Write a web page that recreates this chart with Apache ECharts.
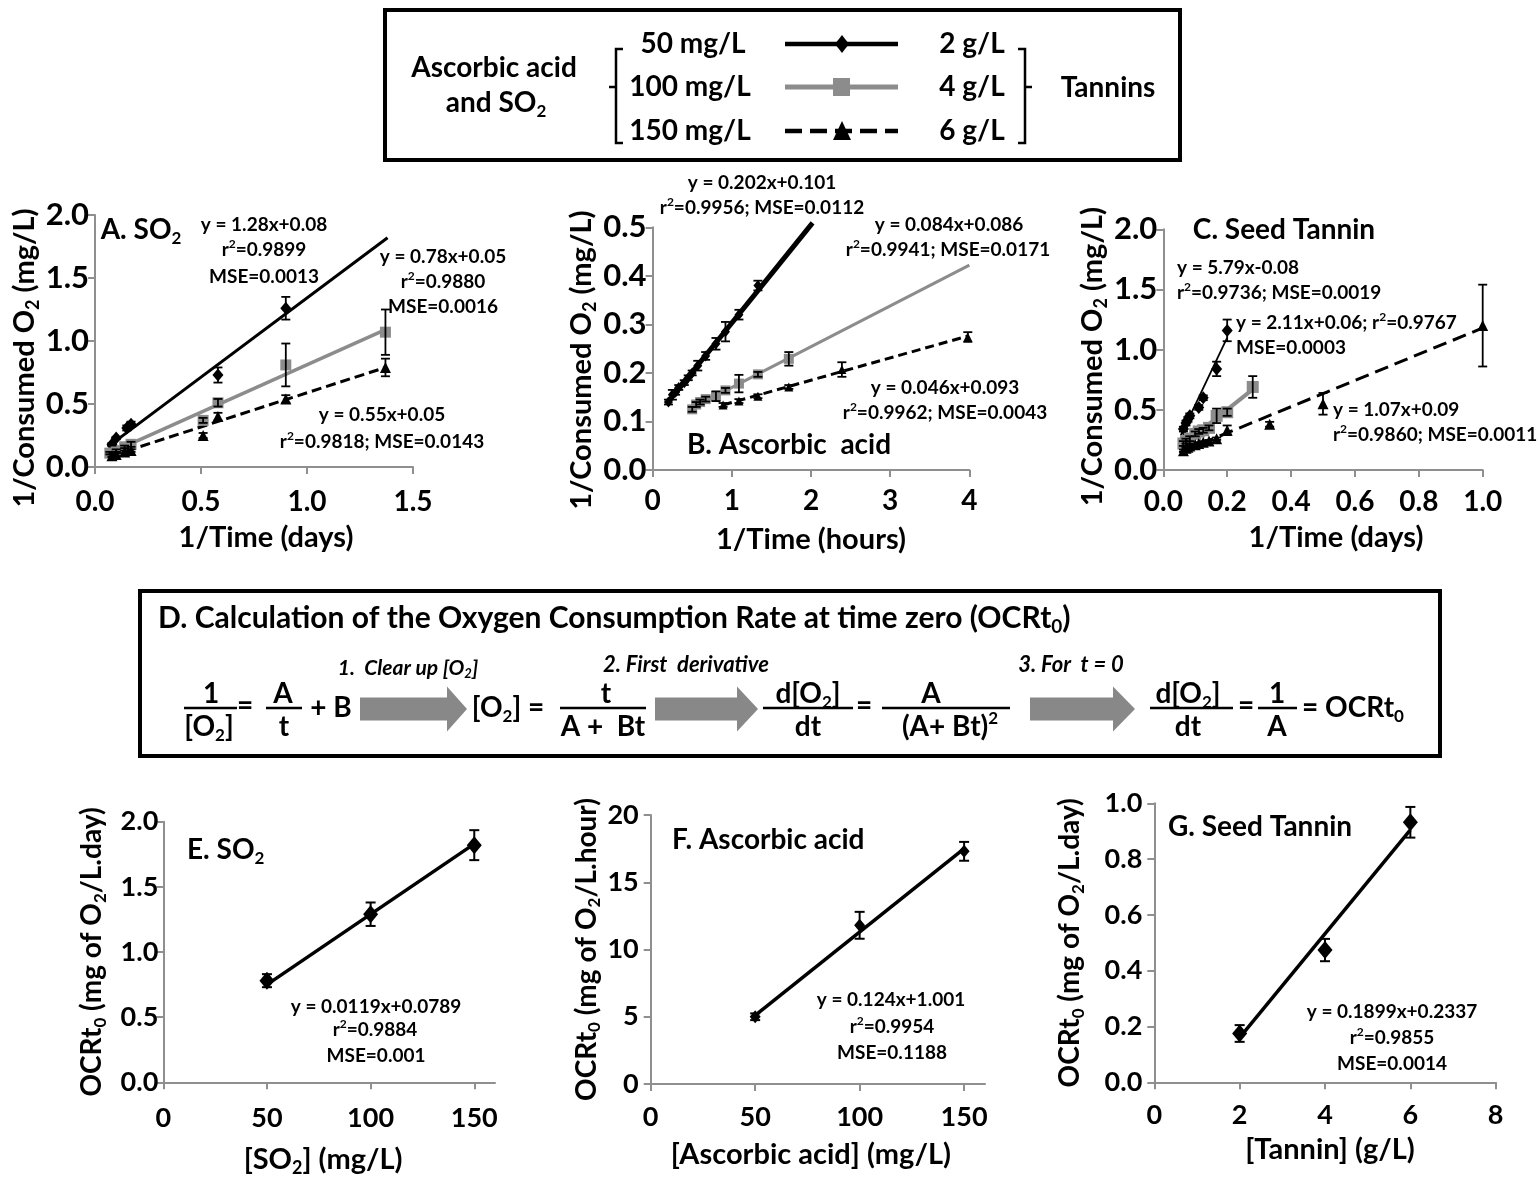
<!DOCTYPE html>
<html><head><meta charset="utf-8">
<script src="https://cdn.jsdelivr.net/npm/echarts@6/dist/echarts.min.js"></script>
<style>html,body{margin:0;padding:0;background:#fff}#c{width:1540px;height:1178px}</style>
</head><body><div id="c"></div>
<script>
// ================= DATA =================
// Panel A: SO2  (x = 1/Time in days, y = 1/Consumed O2 in mg/L)
const A50_x  = [0.08, 0.10, 0.15, 0.17, 0.58, 0.90];
const A50_y  = [0.18, 0.23, 0.31, 0.34, 0.73, 1.26];
const A50_e  = [0.01, 0.01, 0.02, 0.02, 0.06, 0.09];
const A100_x = [0.07, 0.10, 0.14, 0.17, 0.51, 0.58, 0.90, 1.37];
const A100_y = [0.11, 0.13, 0.16, 0.18, 0.37, 0.51, 0.81, 1.07];
const A100_e = [0.01, 0.01, 0.01, 0.02, 0.02, 0.03, 0.17, 0.18];
const A150_x = [0.08, 0.10, 0.14, 0.17, 0.51, 0.58, 0.90, 1.37];
const A150_y = [0.09, 0.10, 0.12, 0.13, 0.25, 0.40, 0.54, 0.79];
const A150_e = [0.01, 0.01, 0.01, 0.01, 0.02, 0.03, 0.03, 0.07];
const A_fit50_x = [0.06, 1.38],  A_fit50_y = [0.16, 1.82];
const A_fit100_x = [0.07, 1.37], A_fit100_y = [0.11, 1.09];
const A_fit150_x = [0.08, 1.37], A_fit150_y = [0.09, 0.79];

// Panel B: Ascorbic acid (x = 1/Time in hours)
const B50_x  = [0.20, 0.25, 0.29, 0.33, 0.40, 0.45, 0.50, 0.57, 0.67, 0.80, 0.92, 1.09, 1.33];
const B50_y  = [0.140, 0.155, 0.160, 0.170, 0.180, 0.190, 0.200, 0.215, 0.235, 0.260, 0.285, 0.320, 0.380];
const B50_e  = [0.005, 0.010, 0.005, 0.005, 0.005, 0.005, 0.005, 0.010, 0.008, 0.012, 0.020, 0.010, 0.010];
const B100_x = [0.50, 0.55, 0.60, 0.67, 0.80, 0.92, 1.09, 1.33, 1.72];
const B100_y = [0.125, 0.135, 0.140, 0.146, 0.152, 0.164, 0.178, 0.197, 0.229];
const B100_e = [0.005, 0.005, 0.005, 0.005, 0.010, 0.005, 0.018, 0.005, 0.014];
const B150_x = [0.89, 1.09, 1.33, 1.72, 2.39, 3.98];
const B150_y = [0.134, 0.142, 0.152, 0.171, 0.207, 0.274];
const B150_e = [0.004, 0.004, 0.004, 0.004, 0.015, 0.010];
const B_fit50_x = [0.18, 2.02],  B_fit50_y = [0.137, 0.509];
const B_fit100_x = [0.50, 4.00], B_fit100_y = [0.128, 0.422];
const B_fit150_x = [0.89, 3.98], B_fit150_y = [0.134, 0.276];

// Panel C: Seed tannin (x = 1/Time in days)
const C2_x = [0.063, 0.071, 0.077, 0.083, 0.111, 0.125, 0.167, 0.200];
const C2_y = [0.34, 0.39, 0.42, 0.45, 0.52, 0.60, 0.84, 1.16];
const C2_e = [0.02, 0.02, 0.02, 0.02, 0.02, 0.02, 0.06, 0.09];
const C4_x = [0.063, 0.071, 0.083, 0.100, 0.111, 0.125, 0.143, 0.167, 0.200, 0.280];
const C4_y = [0.22, 0.24, 0.26, 0.30, 0.32, 0.33, 0.35, 0.45, 0.48, 0.69];
const C4_e = [0.02, 0.02, 0.02, 0.02, 0.02, 0.02, 0.02, 0.06, 0.03, 0.09];
const C6_x = [0.063, 0.071, 0.077, 0.083, 0.100, 0.111, 0.125, 0.143, 0.167, 0.200, 0.333, 0.500, 1.000];
const C6_y = [0.16, 0.18, 0.19, 0.20, 0.21, 0.22, 0.23, 0.24, 0.26, 0.33, 0.38, 0.55, 1.20];
const C6_e = [0.01, 0.01, 0.01, 0.01, 0.01, 0.01, 0.01, 0.01, 0.01, 0.04, 0.02, 0.09, 0.34];
const C_fit2_x = [0.055, 0.20], C_fit2_y = [0.29, 1.10];
const C_fit4_x = [0.057, 0.28], C_fit4_y = [0.20, 0.67];
const C_fit6_x = [0.055, 1.00], C_fit6_y = [0.15, 1.18];

// Panels E, F, G: OCRt0 vs concentration
const E_x = [50, 100, 150], E_y = [0.78, 1.29, 1.82], E_e = [0.05, 0.09, 0.115];
const E_fit_x = [50, 150],  E_fit_y = [0.75, 1.83];
const F_x = [50, 100, 150], F_y = [5.0, 11.8, 17.3], F_e = [0.25, 1.0, 0.7];
const F_fit_x = [50, 150],  F_fit_y = [5.1, 17.5];
const G_x = [2, 4, 6], G_y = [0.175, 0.474, 0.932], G_e = [0.03, 0.04, 0.055];
const G_fit_x = [2, 6],     G_fit_y = [0.16, 0.905];

// tick values for the 0-160 concentration axes
const concTicks = [0, 50, 100, 150];

// ================= STYLE / HELPERS =================
const FF = 'Lato, "Open Sans", "DejaVu Sans", sans-serif';
const GRAY = '#8c8c8c', AXC = '#8f8f8f';

const pts = (xs, ys) => xs.map((x, i) => [x, ys[i]]);
const errs = (xs, ys, es) => xs.map((x, i) => [x, ys[i] - es[i], ys[i] + es[i]]);

function richE(fs) { // rich styles for ECharts labels
  const sf = Math.round(fs * 0.62);
  return {
    s: {fontSize: sf, fontWeight: 'bold', fontFamily: FF, color: '#000', verticalAlign: 'bottom', lineHeight: Math.round(fs * 0.42)},
    p: {fontSize: sf, fontWeight: 'bold', fontFamily: FF, color: '#000', verticalAlign: 'top', lineHeight: Math.round(fs * 0.6)}
  };
}
function richZ(fs, it) { // rich styles for graphic texts
  const sf = Math.round(fs * 0.62);
  const fst = it ? 'italic' : 'normal';
  return {
    s: {fontSize: sf, fontWeight: 'bold', fontStyle: fst, fontFamily: FF, fill: '#000', verticalAlign: 'bottom', lineHeight: Math.round(fs * 0.42)},
    p: {fontSize: sf, fontWeight: 'bold', fontStyle: fst, fontFamily: FF, fill: '#000', verticalAlign: 'top', lineHeight: Math.round(fs * 0.6)}
  };
}
function T(x, y, text, fs, align, italic) {
  return {type: 'text', x, y, z: 100, silent: true, style: {
    text, fontSize: fs, fontWeight: 'bold', fontStyle: italic ? 'italic' : 'normal', fontFamily: FF, fill: '#000',
    align: align || 'center', verticalAlign: 'middle', lineHeight: Math.round(fs * 1.2), rich: richZ(fs, italic)}};
}
function L(x1, y1, x2, y2, w, color, dash) {
  return {type: 'line', z: 100, silent: true, shape: {x1, y1, x2, y2},
    style: {stroke: color || '#000', lineWidth: w || 2.5, lineDash: dash || null}};
}
function arrow(x0, xh, x1, yc) {
  const hs = 11.5, hh = 22.5;
  return {type: 'polygon', z: 100, silent: true, shape: {points: [[x0, yc - hs], [xh, yc - hs], [xh, yc - hh], [x1, yc], [xh, yc + hh], [xh, yc + hs], [x0, yc + hs]]},
    style: {fill: '#888888'}};
}

function xAx(gi, min, max, interval, fs, margin, fmt, name, gap, pad, custom) {
  const ax = {
    type: 'value', gridIndex: gi, min, max, interval,
    axisLine: {show: true, onZero: false, lineStyle: {color: AXC, width: 2}},
    axisTick: {show: true, inside: false, length: 7, lineStyle: {color: AXC, width: 2}},
    splitLine: {show: false},
    axisLabel: {color: '#000', fontWeight: 'bold', fontFamily: FF, fontSize: fs, margin, formatter: fmt},
    name, nameLocation: 'middle', nameGap: gap,
    nameTextStyle: {color: '#000', fontWeight: 'bold', fontFamily: FF, fontSize: 29, lineHeight: 35, padding: pad || 0, rich: richE(29)}
  };
  if (custom) { ax.axisLabel.customValues = custom; ax.axisTick.customValues = custom; }
  return ax;
}
function yAx(gi, min, max, interval, fs, margin, fmt, name, gap, pad, nfs) {
  nfs = nfs || 29;
  return {
    type: 'value', gridIndex: gi, min, max, interval,
    axisLine: {show: true, onZero: false, lineStyle: {color: AXC, width: 2}},
    axisTick: {show: true, inside: false, length: 7, lineStyle: {color: AXC, width: 2}},
    splitLine: {show: false},
    axisLabel: {color: '#000', fontWeight: 'bold', fontFamily: FF, fontSize: fs, margin, formatter: fmt},
    name, nameLocation: 'middle', nameGap: gap, nameRotate: 90,
    nameTextStyle: {color: '#000', fontWeight: 'bold', fontFamily: FF, fontSize: nfs, lineHeight: Math.round(nfs * 1.2), padding: pad || 0, rich: richE(nfs)}
  };
}
const f1 = v => v.toFixed(1);
const f0 = v => String(Math.round(v));

function fitLine(gi, xs, ys, color, width, dash) {
  return {type: 'line', xAxisIndex: gi, yAxisIndex: gi, data: pts(xs, ys), symbol: 'none', clip: false, z: 2,
    lineStyle: {color, width, type: dash || 'solid'}, silent: true, animation: false};
}
function scat(gi, xs, ys, symbol, size, color) {
  return {type: 'scatter', xAxisIndex: gi, yAxisIndex: gi, data: pts(xs, ys), symbol, symbolSize: size,
    itemStyle: {color, opacity: 1}, z: 4, silent: true, animation: false};
}
function errBars(gi, rows, cap, w) {
  return {type: 'custom', xAxisIndex: gi, yAxisIndex: gi, data: rows, z: 5, silent: true, animation: false,
    encode: {x: 0, y: [1, 2]},
    renderItem: (params, api) => {
      const x = api.value(0);
      const a = api.coord([x, api.value(1)]), b = api.coord([x, api.value(2)]);
      const st = {stroke: '#000', lineWidth: w};
      return {type: 'group', children: [
        {type: 'line', shape: {x1: a[0], y1: a[1], x2: b[0], y2: b[1]}, style: st},
        {type: 'line', shape: {x1: a[0] - cap, y1: a[1], x2: a[0] + cap, y2: a[1]}, style: st},
        {type: 'line', shape: {x1: b[0] - cap, y1: b[1], x2: b[0] + cap, y2: b[1]}, style: st}
      ]};
    }};
}

// ================= LAYOUT =================
const grids = [
  {left: 95,    top: 215,   width: 318,   height: 252},   // A
  {left: 652.6, top: 227.3, width: 316.8, height: 242.7}, // B
  {left: 1163.3,top: 229.3, width: 319.4, height: 240.7}, // C
  {left: 163.3, top: 821.7, width: 331.7, height: 260.6}, // E
  {left: 650.7, top: 815,   width: 334.3, height: 269},   // F
  {left: 1154.3,top: 803.3, width: 341.4, height: 279}    // G
].map(g => Object.assign({containLabel: false, outerBoundsMode: 'none'}, g));

const xAxes = [
  xAx(0, 0, 1.5, 0.5, 28, 21, f1, '1/Time (days)', 53, [0, 0, 0, 24]),
  xAx(1, 0, 4, 1, 28, 17, f0, '1/Time (hours)', 52),
  xAx(2, 0, 1, 0.2, 28, 18, f1, '1/Time (days)', 50, [0, 0, 0, 26]),
  xAx(3, 0, 160, 50, 27, 22, f0, '[SO{s|2}] (mg/L)', 60, [0, 12, 0, 0], concTicks),
  xAx(4, 0, 160, 50, 27, 20, f0, '[Ascorbic acid] (mg/L)', 53, [0, 14, 0, 0], concTicks),
  xAx(5, 0, 8, 2, 27, 19, f0, '[Tannin] (g/L)', 50, [0, 0, 0, 10])
];
const yAxes = [
  yAx(0, 0, 2, 0.5, 31, 6, f1, '1/Consumed O{s|2} (mg/L)', 51, [0, 34, 0, 0]),
  yAx(1, 0, 0.5, 0.1, 31, 6, f1, '1/Consumed O{s|2} (mg/L)', 46, [0, 23, 0, 0]),
  yAx(2, 0, 2, 0.5, 31, 6, f1, '1/Consumed O{s|2} (mg/L)', 45, [0, 14, 0, 0]),
  yAx(3, 0, 2, 0.5, 27, 5, f1, 'OCRt{s|0} (mg of O{s|2}/L.day)', 54, 0, 28),
  yAx(4, 0, 20, 5, 27, 12, f0, 'OCRt{s|0} (mg of O{s|2}/L.hour)', 45, 0, 28),
  yAx(5, 0, 1, 0.2, 27, 12, f1, 'OCRt{s|0} (mg of O{s|2}/L.day)', 67, 0, 28)
];

const series = [
  // A
  fitLine(0, A_fit50_x, A_fit50_y, '#000', 3),
  fitLine(0, A_fit100_x, A_fit100_y, GRAY, 3.5),
  fitLine(0, A_fit150_x, A_fit150_y, '#000', 3, [10, 5]),
  scat(0, A50_x, A50_y, 'diamond', [11, 13], '#000'),
  scat(0, A100_x, A100_y, 'rect', 11, GRAY),
  scat(0, A150_x, A150_y, 'triangle', 11, '#000'),
  errBars(0, errs(A50_x, A50_y, A50_e).concat(errs(A100_x, A100_y, A100_e), errs(A150_x, A150_y, A150_e)), 4.5, 1.8),
  // B
  fitLine(1, B_fit50_x, B_fit50_y, '#000', 5),
  fitLine(1, B_fit100_x, B_fit100_y, GRAY, 3),
  fitLine(1, B_fit150_x, B_fit150_y, '#000', 3, [9, 5]),
  scat(1, B50_x, B50_y, 'diamond', [9, 11], '#000'),
  scat(1, B100_x, B100_y, 'rect', 10, GRAY),
  scat(1, B150_x, B150_y, 'triangle', 9, '#000'),
  errBars(1, errs(B50_x, B50_y, B50_e).concat(errs(B100_x, B100_y, B100_e), errs(B150_x, B150_y, B150_e)), 4.5, 1.8),
  // C
  fitLine(2, C_fit2_x, C_fit2_y, '#000', 1.8),
  fitLine(2, C_fit4_x, C_fit4_y, GRAY, 4),
  fitLine(2, C_fit6_x, C_fit6_y, '#000', 3, [14, 7]),
  scat(2, C2_x, C2_y, 'diamond', [11, 13], '#000'),
  scat(2, C4_x, C4_y, 'rect', 12, GRAY),
  scat(2, C6_x, C6_y, 'triangle', 11, '#000'),
  errBars(2, errs(C2_x, C2_y, C2_e).concat(errs(C4_x, C4_y, C4_e), errs(C6_x, C6_y, C6_e)), 4.5, 1.8),
  // E
  fitLine(3, E_fit_x, E_fit_y, '#000', 3.5),
  scat(3, E_x, E_y, 'diamond', [15, 18], '#000'),
  errBars(3, errs(E_x, E_y, E_e), 5, 2),
  // F
  fitLine(4, F_fit_x, F_fit_y, '#000', 3.5),
  scat(4, F_x, F_y, 'diamond', [11, 13], '#000'),
  errBars(4, errs(F_x, F_y, F_e), 5, 2),
  // G
  fitLine(5, G_fit_x, G_fit_y, '#000', 3.5),
  scat(5, G_x, G_y, 'diamond', [15, 18], '#000'),
  errBars(5, errs(G_x, G_y, G_e), 5, 2)
];

// ================= ANNOTATIONS / BOXES =================
const graphic = [
  // ---- legend box ----
  {type: 'rect', z: 99, silent: true, shape: {x: 385, y: 10, width: 795, height: 150}, style: {fill: 'none', stroke: '#000', lineWidth: 4}},
  T(494, 68, 'Ascorbic acid', 28), T(496, 103, 'and SO{s|2}', 28),
  {type: 'polyline', z: 100, silent: true, shape: {points: [[623, 49], [616, 49], [616, 143], [623, 143]]}, style: {stroke: '#000', lineWidth: 2.5, fill: 'none'}},
  L(616, 87, 609, 87, 2.5),
  {type: 'polyline', z: 100, silent: true, shape: {points: [[1018, 49], [1025, 49], [1025, 143], [1018, 143]]}, style: {stroke: '#000', lineWidth: 2.5, fill: 'none'}},
  L(1025, 87, 1032, 87, 2.5),
  T(693, 44, '50 mg/L', 28), T(690, 87, '100 mg/L', 28), T(690, 131, '150 mg/L', 28),
  T(972, 44, '2 g/L', 28), T(972, 87, '4 g/L', 28), T(972, 131, '6 g/L', 28),
  T(1108, 88, 'Tannins', 28),
  L(785, 44, 898, 44, 4.5),
  {type: 'polygon', z: 101, silent: true, shape: {points: [[842, 35], [849, 44], [842, 53], [835, 44]]}, style: {fill: '#000'}},
  L(785, 87, 898, 87, 5, GRAY),
  {type: 'rect', z: 101, silent: true, shape: {x: 833, y: 78, width: 17, height: 18}, style: {fill: GRAY}},
  L(785, 131, 898, 131, 4.5, '#000', [17, 8]),
  {type: 'polygon', z: 101, silent: true, shape: {points: [[842, 121], [851, 140], [833, 140]]}, style: {fill: '#000'}},

  // ---- panel A texts ----
  T(141, 230, 'A. SO{s|2}', 28),
  T(264, 225, 'y = 1.28x+0.08', 19), T(264, 250, 'r{p|2}=0.9899', 19), T(264, 277, 'MSE=0.0013', 19),
  T(443, 257, 'y = 0.78x+0.05', 19), T(443, 282, 'r{p|2}=0.9880', 19), T(443, 307, 'MSE=0.0016', 19),
  T(382, 415, 'y = 0.55x+0.05', 19), T(382, 442, 'r{p|2}=0.9818; MSE=0.0143', 19),
  // ---- panel B texts ----
  T(762, 183, 'y = 0.202x+0.101', 19), T(762, 208, 'r{p|2}=0.9956; MSE=0.0112', 19),
  T(949, 225, 'y = 0.084x+0.086', 19), T(948, 250, 'r{p|2}=0.9941; MSE=0.0171', 19),
  T(945, 388, 'y = 0.046x+0.093', 19), T(945, 413, 'r{p|2}=0.9962; MSE=0.0043', 19),
  T(789, 445, 'B. Ascorbic  acid', 28),
  // ---- panel C texts ----
  T(1284, 230, 'C. Seed Tannin', 28),
  T(1177, 268, 'y = 5.79x-0.08', 19, 'left'), T(1177, 293, 'r{p|2}=0.9736; MSE=0.0019', 19, 'left'),
  T(1236, 323, 'y = 2.11x+0.06; r{p|2}=0.9767', 19, 'left'), T(1236, 348, 'MSE=0.0003', 19, 'left'),
  T(1333, 410, 'y = 1.07x+0.09', 19, 'left'), T(1333, 435, 'r{p|2}=0.9860; MSE=0.0011', 19, 'left'),
  // ---- panel E/F/G texts ----
  T(187, 850, 'E. SO{s|2}', 28, 'left'),
  T(376, 1007, 'y = 0.0119x+0.0789', 19), T(375, 1030, 'r{p|2}=0.9884', 19), T(376, 1056, 'MSE=0.001', 19),
  T(672, 840, 'F. Ascorbic acid', 28, 'left'),
  T(891, 1000, 'y = 0.124x+1.001', 19), T(892, 1027, 'r{p|2}=0.9954', 19), T(892, 1053, 'MSE=0.1188', 19),
  T(1168, 827, 'G. Seed Tannin', 28, 'left'),
  T(1392, 1012, 'y = 0.1899x+0.2337', 19), T(1392, 1038, 'r{p|2}=0.9855', 19), T(1392, 1064, 'MSE=0.0014', 19),

  // ---- box D ----
  {type: 'rect', z: 99, silent: true, shape: {x: 140, y: 591, width: 1300, height: 165}, style: {fill: 'none', stroke: '#000', lineWidth: 4}},
  T(158, 618, 'D. Calculation of the Oxygen Consumption Rate at time zero (OCRt{s|0})', 30, 'left'),
  T(211, 694, '1', 28), L(184, 708, 237, 708), T(209, 727, '[O{s|2}]', 28),
  T(245, 706, '=', 28),
  T(283, 694, 'A', 28), L(266, 708, 302, 708), T(284, 727, 't', 28),
  T(331, 708, '+ B', 28),
  arrow(360, 447, 467, 709),
  T(408, 668, '1.  Clear up [O{s|2}]', 21, 'center', true),
  T(508, 708, '[O{s|2}] =', 28),
  T(606, 694, 't', 28), L(560, 708, 646, 708), T(603, 727, 'A +  Bt', 28),
  arrow(655, 737, 758, 709),
  T(686, 665, '2. First  derivative', 22, 'center', true),
  T(808, 694, 'd[O{s|2}]', 28), L(763, 708, 853, 708), T(808, 727, 'dt', 28),
  T(864, 706, '=', 28),
  T(931, 694, 'A', 28), L(882, 708, 1010, 708), T(950, 727, '(A+ Bt){p|2}', 28),
  arrow(1030, 1113, 1135, 709),
  T(1071, 665, '3. For  t = 0', 22, 'center', true),
  T(1188, 694, 'd[O{s|2}]', 28), L(1150, 708, 1233, 708), T(1188, 727, 'dt', 28),
  T(1246, 706, '=', 28),
  T(1277, 694, '1', 28), L(1258, 708, 1297, 708), T(1277, 727, 'A', 28),
  T(1302, 708, '= OCRt{s|0}', 28, 'left')
];

const chart = echarts.init(document.getElementById('c'), null, {renderer: 'canvas'});
chart.setOption({
  backgroundColor: '#fff',
  animation: false,
  grid: grids,
  xAxis: xAxes,
  yAxis: yAxes,
  series,
  graphic
});
</script>
</body></html>
